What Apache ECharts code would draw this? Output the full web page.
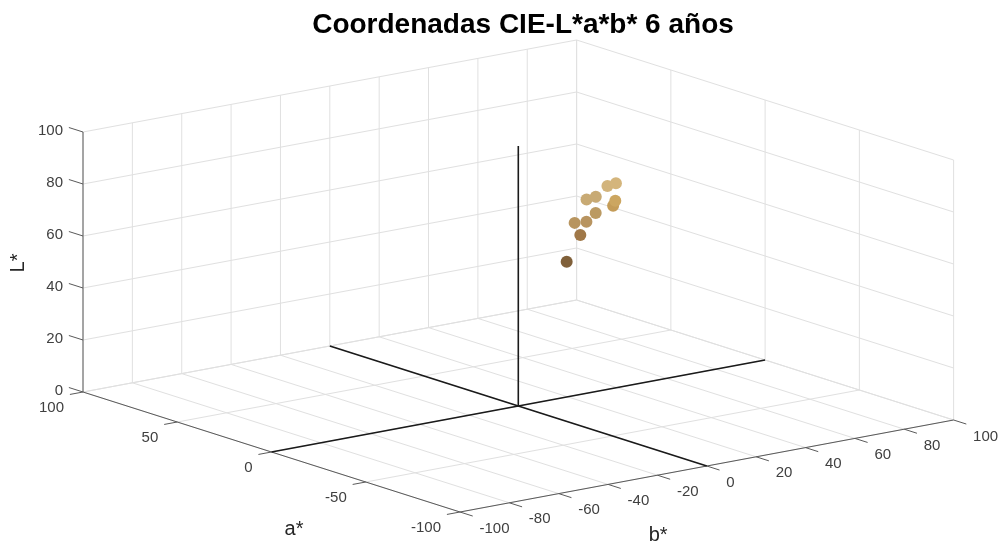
<!DOCTYPE html>
<html>
<head>
<meta charset="utf-8">
<script src="https://cdn.jsdelivr.net/npm/echarts@6/dist/echarts.min.js"></script>
<style>
html,body{margin:0;padding:0;background:#fff;}
#chart{width:999px;height:546px;}
</style>
</head>
<body>
<div id="chart"></div>
<script>
// ---- data ----
const aTicks = [-100, -50, 0, 50, 100];
const bTicks = [-100, -80, -60, -40, -20, 0, 20, 40, 60, 80, 100];
const LTicks = [0, 20, 40, 60, 80, 100];

const aValues = [11, 9, 12, 11, 10, 7, 8, 6, 4.5, 6, 5.5];
const bValues = [28, 32, 32, 36, 39, 33, 37.5, 40.7, 43, 43, 43.5];
const LValues = [48, 58, 62, 62, 65, 72, 72, 76, 77, 68, 70];

const titleText = 'Coordenadas CIE-L*a*b* 6 años';
const axisNames = { a: 'a*', b: 'b*', L: 'L*' };

// ---- styles ----
const pointColors = ['#80603a', '#a07848', '#b8955f', '#b89460', '#bb9a62',
                     '#c8aa74', '#c8aa74', '#d2b47c', '#d4b57c', '#c49c58', '#cca660'];
const FONT = '"Liberation Sans", Arial, Helvetica, sans-serif';
const GRID_COLOR = '#e0e0e0';
const AXIS_COLOR = '#5a5a5a';
const LABEL_COLOR = '#404040';

// ---- view projection (orthographic, MATLAB-like default view) ----
const VIEW = { ox: 518.3, oy: 406, ax: -1.885, ay: -0.6, bx: 2.468, by: -0.46, lx: 0, ly: -2.6 };
function project(a, b, L) {
  return [VIEW.ox + VIEW.ax * a + VIEW.bx * b + VIEW.lx * L,
          VIEW.oy + VIEW.ay * a + VIEW.by * b + VIEW.ly * L];
}

const aMin = aTicks[0], aMax = aTicks[aTicks.length - 1];
const bMin = bTicks[0], bMax = bTicks[bTicks.length - 1];
const LMin = LTicks[0], LMax = LTicks[LTicks.length - 1];

// gridlines on back walls and floor
const gridSegs = [];
bTicks.forEach(b => gridSegs.push([aMax, b, LMin, aMax, b, LMax]));
LTicks.forEach(L => gridSegs.push([aMax, bMin, L, aMax, bMax, L]));
aTicks.forEach(a => gridSegs.push([a, bMax, LMin, a, bMax, LMax]));
LTicks.forEach(L => gridSegs.push([aMin, bMax, L, aMax, bMax, L]));
bTicks.forEach(b => gridSegs.push([aMin, b, LMin, aMax, b, LMin]));
aTicks.forEach(a => gridSegs.push([a, bMin, LMin, a, bMax, LMin]));

// axis lines and ticks
const TICK_A = 7.5, TICK_B = 5.3;
const axisSegs = [
  [aMax, bMin, LMin, aMax, bMin, LMax],
  [aMax, bMin, LMin, aMin, bMin, LMin],
  [aMin, bMin, LMin, aMin, bMax, LMin]
];
LTicks.forEach(L => axisSegs.push([aMax, bMin, L, aMax + TICK_A, bMin, L]));
aTicks.forEach(a => axisSegs.push([a, bMin, LMin, a, bMin - TICK_B, LMin]));
bTicks.forEach(b => axisSegs.push([aMin, b, LMin, aMin - TICK_A * 0.9, b, LMin]));

// black reference axes through the origin
const refSegs = [
  [aMin, 0, LMin, aMax, 0, LMin],
  [0, bMin, LMin, 0, bMax, LMin],
  [0, 0, LMin, 0, 0, LMax]
];

// labels
const labels = [];
LTicks.forEach(L => labels.push({ pos: [aMax, bMin, L], text: String(L), align: 'right', dx: -20, dy: -1.5, size: 15, color: LABEL_COLOR }));
aTicks.forEach(a => labels.push({ pos: [a, bMin, LMin], text: String(a), align: 'right', dx: -19, dy: 15.5, size: 15, color: LABEL_COLOR }));
bTicks.forEach(b => labels.push({ pos: [aMin, b, LMin], text: String(b), align: 'left', dx: 19.5, dy: 16.5, size: 15, color: LABEL_COLOR }));
labels.push({ pos: [aMax, bMin, (LMin + LMax) / 2], text: axisNames.L, align: 'center', dx: -64.5, dy: 1, size: 20, color: '#262626', rot: Math.PI / 2 });
labels.push({ pos: [(aMin + aMax) / 2, bMin, LMin], text: axisNames.a, align: 'center', dx: 22.5, dy: 77, size: 20, color: '#262626' });
labels.push({ pos: [aMin, (bMin + bMax) / 2, LMin], text: axisNames.b, align: 'center', dx: -48.7, dy: 69, size: 20, color: '#262626' });

function segSeries(segs, color, width, z) {
  return {
    type: 'custom', coordinateSystem: 'cartesian2d', data: segs, z: z,
    silent: true, animation: false,
    renderItem: function (params, api) {
      const p1 = api.coord(project(api.value(0), api.value(1), api.value(2)));
      const p2 = api.coord(project(api.value(3), api.value(4), api.value(5)));
      return { type: 'line', shape: { x1: p1[0], y1: p1[1], x2: p2[0], y2: p2[1] },
               style: { stroke: color, lineWidth: width } };
    }
  };
}

const chart = echarts.init(document.getElementById('chart'), null, { renderer: 'canvas' });
chart.setOption({
  backgroundColor: '#ffffff',
  animation: false,
  title: {
    text: titleText, left: 518, top: 6, textAlign: 'center',
    textStyle: { fontSize: 28, fontWeight: 'bold', color: '#000', fontFamily: FONT }
  },
  grid: { left: 0, right: 0, top: 0, bottom: 0 },
  xAxis: { type: 'value', min: 0, max: 999, show: false },
  yAxis: { type: 'value', min: 0, max: 546, inverse: true, show: false },
  series: [
    segSeries(gridSegs, GRID_COLOR, 1, 1),
    segSeries(axisSegs, AXIS_COLOR, 1, 2),
    segSeries(refSegs, '#1a1a1a', 1.6, 3),
    {
      type: 'custom', coordinateSystem: 'cartesian2d', z: 4, silent: true, animation: false,
      data: labels.map(l => l.pos),
      renderItem: function (params, api) {
        const l = labels[params.dataIndex];
        const p = api.coord(project(api.value(0), api.value(1), api.value(2)));
        return {
          type: 'text', x: p[0] + l.dx, y: p[1] + l.dy, rotation: l.rot || 0,
          style: { text: l.text, align: l.align, verticalAlign: 'middle',
                   fontSize: l.size, fontFamily: FONT, fill: l.color }
        };
      }
    },
    {
      type: 'scatter', z: 10, silent: true, animation: false,
      symbol: 'circle', symbolSize: 12,
      data: aValues.map((a, i) => ({
        value: project(a, bValues[i], LValues[i]),
        itemStyle: { color: pointColors[i], opacity: 1 }
      }))
    }
  ]
});
</script>
</body>
</html>
